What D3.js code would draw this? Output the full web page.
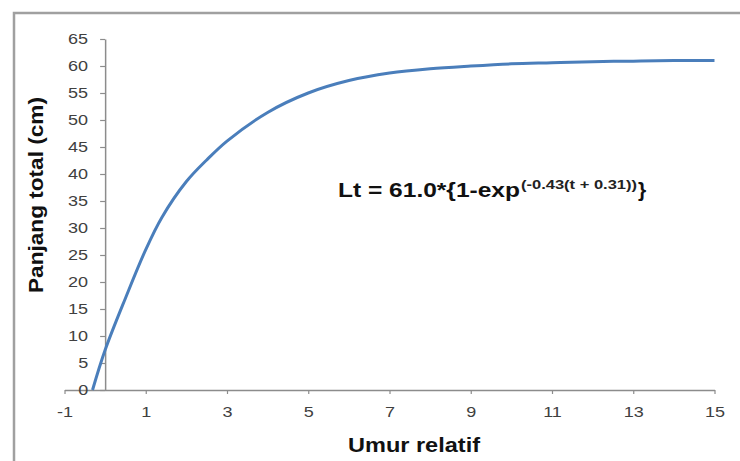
<!DOCTYPE html>
<html>
<head>
<meta charset="utf-8">
<script src="https://cdn.jsdelivr.net/npm/d3@7"></script>
<style>
  body { margin: 0; background: #fff; }
  text { font-family: "Liberation Sans", Arial, sans-serif; }
</style>
</head>
<body>
<div id="chart"></div>
<script>
// values
var umur = [-0.31, 0, 0.5, 1, 1.4, 2, 2.5, 3, 4, 5, 6, 7, 8, 9, 10, 11, 12, 13, 14, 15];
var panjang = [0, 7.4, 17.0, 26.0, 32.0, 38.6, 42.6, 46.1, 51.4, 55.0, 57.3, 58.7, 59.5, 60.0, 60.4, 60.6, 60.8, 60.9, 61.0, 61.0];
var xTicks = [-1, 1, 3, 5, 7, 9, 11, 13, 15];
var yTicks = [0, 5, 10, 15, 20, 25, 30, 35, 40, 45, 50, 55, 60, 65];

var width = 740, height = 461;

var svg = d3.select("#chart")
  .append("svg")
    .attr("width", width)
    .attr("height", height);

// the source picture is a bit wider than tall, so text is stretched sideways
function stretch(sel, k) {
  sel.each(function(){
    var w = this.getComputedTextLength();
    d3.select(this).attr("textLength", w * k).attr("lengthAdjust", "spacingAndGlyphs");
  });
}

// outer frame
svg.append("rect")
  .attr("x", 14).attr("y", 13)
  .attr("width", 740).attr("height", 460)
  .style("fill", "none")
  .style("stroke", "#a0a0a0")
  .style("stroke-width", 2.5);

var x = d3.scaleLinear().domain([-1, 15]).range([64.5, 714.5]);
var y = d3.scaleLinear().domain([0, 65]).range([390, 39]);

// x axis (crosses at y = 0)
var xAxis = svg.append("g")
  .attr("transform", "translate(0," + y(0) + ")")
  .call(d3.axisBottom(x).tickValues(xTicks).tickFormat(d3.format("d"))
    .tickSize(4).tickPadding(12).tickSizeOuter(0));

// y axis (crosses at x = 0)
var yAxis = svg.append("g")
  .attr("transform", "translate(" + x(0) + ",0)")
  .call(d3.axisLeft(y).tickValues(yTicks).tickSize(5).tickPadding(12).tickSizeOuter(0));

[xAxis, yAxis].forEach(function(a){
  a.select(".domain").style("stroke", "#8c8c8c").style("stroke-width", 1.5);
  a.selectAll(".tick line").style("stroke", "#8c8c8c").style("stroke-width", 1.2);
  a.selectAll(".tick text")
    .style("font-family", "'Liberation Sans', Arial, sans-serif")
    .style("font-size", "15px")
    .style("fill", "#404040");
});
xAxis.selectAll(".tick text").text(function(d){ return String(d).replace("\u2212", "-"); });
stretch(xAxis.selectAll(".tick text"), 1.2);
stretch(yAxis.selectAll(".tick text"), 1.2);

// growth curve
var pts = umur.map(function(t, i){ return [t, panjang[i]]; });
var line = d3.line()
  .x(function(d){ return x(d[0]); })
  .y(function(d){ return y(d[1]); })
  .curve(d3.curveCatmullRom.alpha(0.5));

svg.append("path")
  .datum(pts)
  .attr("d", line)
  .style("fill", "none")
  .style("stroke", "#4a7ebb")
  .style("stroke-width", 3);

// equation
var eqMain = svg.append("text")
  .attr("x", 338).attr("y", 197)
  .style("font-size", "21px")
  .style("font-weight", "bold")
  .style("fill", "#111")
  .text("Lt = 61.0*{1-exp");
var eqSup = svg.append("text")
  .attr("x", 521).attr("y", 189)
  .style("font-size", "12.5px")
  .style("font-weight", "bold")
  .style("fill", "#222")
  .text("(-0.43(t + 0.31))");
var eqEnd = svg.append("text")
  .attr("x", 638).attr("y", 197)
  .style("font-size", "21px")
  .style("font-weight", "bold")
  .style("fill", "#111")
  .text("}");
eqMain.attr("textLength", 182).attr("lengthAdjust", "spacingAndGlyphs");
eqSup.attr("textLength", 116).attr("lengthAdjust", "spacingAndGlyphs");

// axis titles
var xTitle = svg.append("text")
  .attr("x", 414).attr("y", 452)
  .attr("text-anchor", "middle")
  .style("font-size", "20px")
  .style("font-weight", "bold")
  .style("fill", "#111")
  .text("Umur relatif");
xTitle.attr("textLength", 132).attr("lengthAdjust", "spacingAndGlyphs");

var yTitle = svg.append("text")
  .attr("transform", "translate(43,195) rotate(-90)")
  .attr("text-anchor", "middle")
  .style("font-size", "20px")
  .style("font-weight", "bold")
  .style("fill", "#111")
  .text("Panjang total (cm)");
yTitle.attr("textLength", 196).attr("lengthAdjust", "spacingAndGlyphs");
</script>
</body>
</html>
